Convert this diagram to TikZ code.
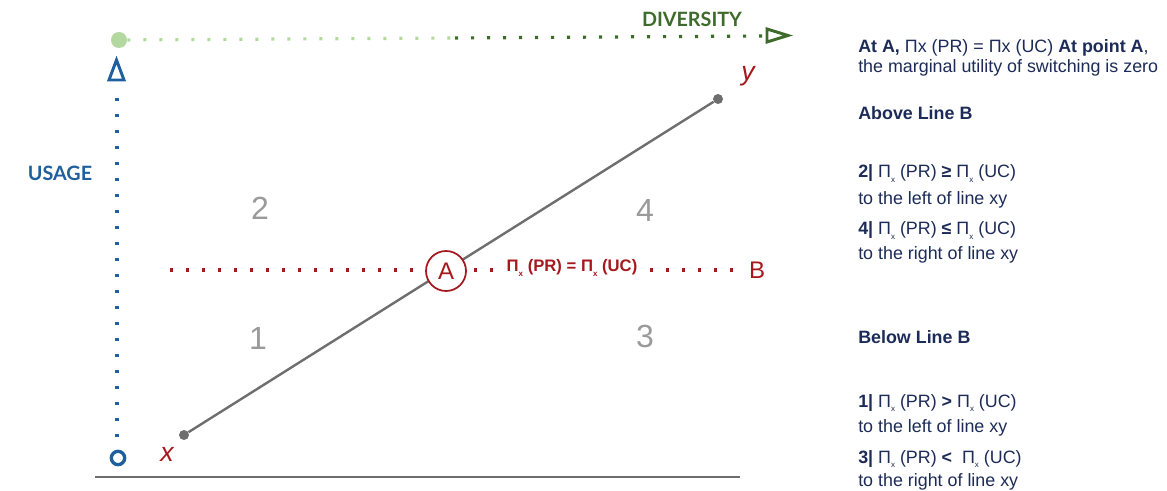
\documentclass[tikz,border=0pt]{standalone}
\usepackage{fontspec}
\setmainfont{Liberation Sans}
\newfontfamily\latof{Lato}
\definecolor{navy}{HTML}{1C2B57}
\definecolor{dgreen}{HTML}{3D6B2A}
\definecolor{lgreen}{HTML}{B3D8A0}
\definecolor{ublue}{HTML}{1F5F9E}
\definecolor{dred}{HTML}{A5191E}
\definecolor{lgray}{HTML}{6E6E6E}
\definecolor{numgray}{HTML}{9A9A9A}
\newcommand\pix{Π\raisebox{-3.6pt}{\fontsize{6}{6}\selectfont x}}
\begin{document}
\begin{tikzpicture}[x=0.75pt,y=-0.75pt,
  rtext/.style={anchor=base west, inner sep=0pt, text=navy, font=\fontsize{13.4}{15}\selectfont},
  num/.style={text=numgray, font=\fontsize{24}{26}\selectfont},
  dotline/.style={line width=2.4pt, dash pattern=on 2.4pt off 9.6pt},
  axislbl/.style={font=\latof\bfseries\fontsize{14.8}{16}\selectfont},
  endpt/.style={circle, fill=lgray, inner sep=0pt, minimum size=7.5pt},
  varlbl/.style={text=dred, font=\itshape\fontsize{20}{22}\selectfont},
  tri/.style={line width=2.2pt, line join=miter}
]
\useasboundingbox (0,0) rectangle (1167,491);

% diversity axis
\node[circle, fill=lgreen, inner sep=0pt, minimum size=12pt] (g) at (119,40) {};
\coordinate (gmid) at (455,38);
\coordinate (gend) at (762,36);
\draw[dotline, lgreen] (g) -- (gmid);
\draw[dotline, dgreen] (gmid) -- (gend);
\draw[tri, dgreen] (767,29) -- (767,42) -- (788,35.5) -- cycle;
\node[axislbl, text=dgreen] (div) at (692,19) {DIVERSITY};

% usage axis
\node[circle, draw=ublue, line width=2.5pt, inner sep=0pt, minimum size=10pt] (o) at (118,458) {};
\coordinate (ubot) at (117,437);
\coordinate (utop) at (117,92);
\draw[dotline, ublue] (ubot) -- (utop);
\draw[tri, ublue] (116.5,60) -- (109,80) -- (124,80) -- cycle;
\node[axislbl, text=ublue] (usage) at (60,173) {USAGE};

% base line
\coordinate (bl) at (95,477);
\coordinate (br) at (740,477);
\draw[lgray, line width=1.4pt] (bl) -- (br);

% line xy
\node[endpt] (px) at (184,435) {};
\node[endpt] (py) at (718,99) {};
\draw[lgray, line width=1.8pt] (px) -- (py);
\node[varlbl] (xl) at (167,454) {x};
\node[varlbl] (yl) at (748,76) {y};

% line B
\coordinate (rl) at (170,270);
\node[text=dred, font=\fontsize{18}{20}\selectfont, inner sep=1pt] (B) at (757,270) {B};
\coordinate (bend) at (735,270);
\draw[dotline, dred] (rl) -- (bend);
\node[circle, draw=dred, line width=1.3pt, fill=white, minimum size=30pt, inner sep=0pt,
      text=dred, font=\fontsize{18}{20}\selectfont] (A) at (446,271) {A};
\node[fill=white, inner xsep=8pt, text=dred, font=\bfseries\fontsize{12.5}{14}\selectfont] (eq) at (572,268) {\pix\ (PR) = \pix\ (UC)};

% region numbers
\node[num] (n2) at (260,208) {2};
\node[num] (n4) at (645,210) {4};
\node[num] (n1) at (258,338) {1};
\node[num] (n3) at (645,336) {3};

% right text
\node[rtext] (t1) at (858,53) {\textbf{At A,} Πx (PR) = Πx (UC) \textbf{At point A},};
\node[rtext] (t2) at (858,73) {the marginal utility of switching is zero};
\node[rtext] (t3) at (858,120) {\textbf{Above Line B}};
\node[rtext] (t4) at (858,178) {\textbf{2|} \pix\ (PR) \textbf{≥} \pix\ (UC)};
\node[rtext] (t5) at (858,205) {to the left of line xy};
\node[rtext] (t6) at (858,235) {\textbf{4|} \pix\ (PR) \textbf{≤} \pix\ (UC)};
\node[rtext] (t7) at (858,260) {to the right of line xy};
\node[rtext] (t8) at (858,344) {\textbf{Below Line B}};
\node[rtext] (t9) at (858,407) {\textbf{1|} \pix\ (PR) \textbf{>} \pix\ (UC)};
\node[rtext] (t10) at (858,432) {to the left of line xy};
\node[rtext] (t11) at (858,463) {\textbf{3|} \pix\ (PR) \textbf{<}\ \ \pix\ (UC)};
\node[rtext] (t12) at (858,486) {to the right of line xy};
\end{tikzpicture}
\end{document}
